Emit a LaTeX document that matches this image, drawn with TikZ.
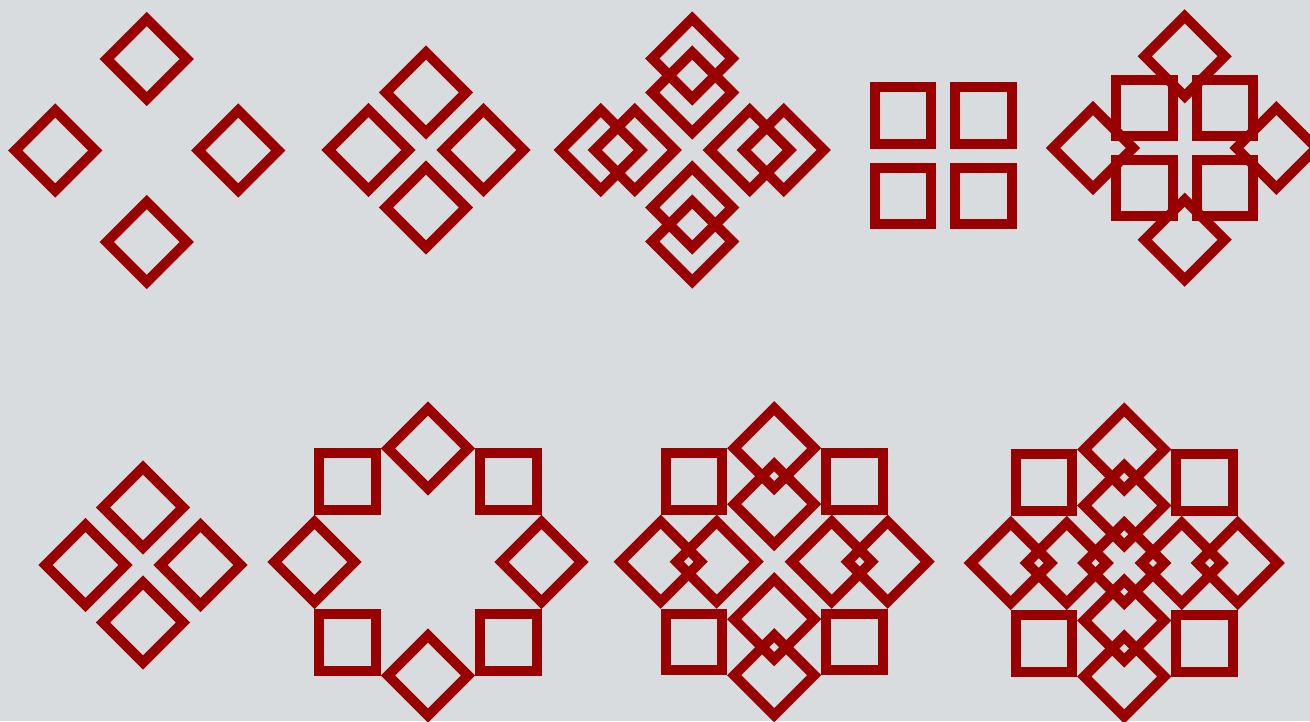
\documentclass[tikz,border=0pt]{standalone}
\definecolor{bgcol}{RGB}{216,220,223}
\definecolor{tilered}{RGB}{153,0,0}
\tikzset{
  tileline/.style={draw=tilered,line width=10pt,line join=miter,miter limit=10},
  tile/.pic={\draw[tileline] (0,-40)--(40,0)--(0,40)--(-40,0)--cycle;}
}
\begin{document}
\begin{tikzpicture}[x=1pt,y=-1pt]
\fill[bgcol] (0,0) rectangle (1310,721);
\useasboundingbox (0,0) rectangle (1310,721);
% ---- Row 1 ----
% F1: four diamonds, wide spacing
\begin{scope}[shift={(146.7,150.5)}]
  \foreach \a in {0,90,180,270} \pic[rotate=\a] at (\a:91.5) {tile};
\end{scope}
% F2: four diamonds, close spacing
\begin{scope}[shift={(426,150)}]
  \foreach \a in {0,90,180,270} \pic[rotate=\a] at (\a:57.5) {tile};
\end{scope}
% F3: both sets of diamonds
\begin{scope}[shift={(692.3,150)}]
  \foreach \a in {0,90,180,270} {
    \pic[rotate=\a] at (\a:91.5) {tile};
    \pic[rotate=\a] at (\a:57.5) {tile};
  }
\end{scope}
% F4: four squares
\begin{scope}[shift={(943.3,155.7)}]
  \foreach \a in {45,135,225,315} \pic[rotate=\a] at (\a:56.8) {tile};
\end{scope}
% F5: four squares and four diamonds
\begin{scope}[shift={(1184.7,148)}]
  \foreach \a in {45,135,225,315} \pic[rotate=\a] at (\a:56.8) {tile};
  \foreach \a in {0,90,180,270} \pic[rotate=\a] at (\a:91.7) {tile};
\end{scope}
% ---- Row 2 ----
% F6: four diamonds, close spacing
\begin{scope}[shift={(143,565)}]
  \foreach \a in {0,90,180,270} \pic[rotate=\a] at (\a:57.5) {tile};
\end{scope}
% F7: ring of eight
\begin{scope}[shift={(428,562)}]
  \foreach \a in {0,45,...,315} \pic[rotate=\a] at (\a:113.5) {tile};
\end{scope}
% F8: ring of eight plus four inner diamonds
\begin{scope}[shift={(774.2,561.7)}]
  \foreach \a in {0,45,...,315} \pic[rotate=\a] at (\a:113.5) {tile};
  \foreach \a in {0,90,180,270} \pic[rotate=\a] at (\a:57.5) {tile};
\end{scope}
% F9: ring of eight, four inner diamonds and a centre diamond
\begin{scope}[shift={(1124.2,563)}]
  \foreach \a in {0,45,...,315} \pic[rotate=\a] at (\a:113.5) {tile};
  \foreach \a in {0,90,180,270} \pic[rotate=\a] at (\a:57.5) {tile};
  \pic at (0,0) {tile};
\end{scope}
\end{tikzpicture}
\end{document}
